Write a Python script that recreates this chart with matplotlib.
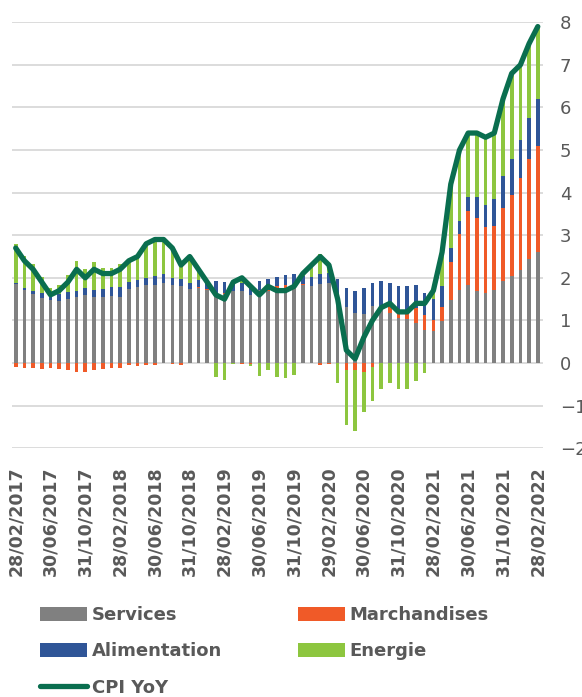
import numpy as np
import matplotlib.pyplot as plt

# monthly, Feb 2017 .. Feb 2022
dates = ['28/02/2017', '30/06/2017', '31/10/2017', '28/02/2018', '30/06/2018',
         '31/10/2018', '28/02/2019', '30/06/2019', '31/10/2019', '29/02/2020',
         '30/06/2020', '31/10/2020', '28/02/2021', '30/06/2021', '31/10/2021',
         '28/02/2022']

services = [1.86, 1.72, 1.63, 1.53, 1.47, 1.46, 1.51, 1.54, 1.60, 1.54,
            1.56, 1.58, 1.55, 1.74, 1.78, 1.83, 1.84, 1.89, 1.82, 1.80,
            1.74, 1.75, 1.71, 1.63, 1.63, 1.68, 1.68, 1.60, 1.72, 1.68,
            1.72, 1.75, 1.82, 1.83, 1.80, 1.86, 1.88, 1.60, 1.31, 1.17,
            1.16, 1.35, 1.29, 1.17, 1.05, 1.03, 0.95, 0.78, 0.74, 0.98,
            1.48, 1.72, 1.82, 1.70, 1.64, 1.72, 1.93, 2.05, 2.19, 2.44,
            2.60]
marchandises = [-0.09, -0.12, -0.12, -0.13, -0.12, -0.13, -0.17, -0.20, -0.20, -0.17,
                -0.13, -0.12, -0.12, -0.05, -0.06, -0.04, -0.04, -0.01, -0.03, -0.05,
                0.00, 0.03, 0.02, 0.00, 0.02, 0.00, -0.03, -0.03, 0.00, 0.03,
                0.08, 0.08, 0.00, 0.02, 0.00, -0.05, -0.02, 0.00, -0.16, -0.17,
                -0.20, -0.09, 0.00, 0.16, 0.12, 0.14, 0.34, 0.35, 0.28, 0.33,
                0.89, 1.31, 1.75, 1.71, 1.55, 1.50, 1.72, 1.90, 2.16, 2.34,
                2.49]
alimentation = [0.02, 0.05, 0.06, 0.11, 0.10, 0.16, 0.15, 0.16, 0.17, 0.18,
                0.18, 0.21, 0.23, 0.17, 0.17, 0.16, 0.20, 0.19, 0.18, 0.18,
                0.15, 0.17, 0.17, 0.29, 0.25, 0.24, 0.21, 0.23, 0.20, 0.26,
                0.23, 0.23, 0.27, 0.20, 0.23, 0.23, 0.23, 0.37, 0.45, 0.53,
                0.60, 0.54, 0.63, 0.55, 0.63, 0.63, 0.53, 0.51, 0.48, 0.49,
                0.33, 0.31, 0.33, 0.49, 0.52, 0.63, 0.74, 0.84, 0.88, 0.98,
                1.11]
energie = [0.91, 0.75, 0.63, 0.39, 0.18, 0.21, 0.41, 0.70, 0.43, 0.65,
           0.49, 0.43, 0.54, 0.54, 0.61, 0.85, 0.90, 0.83, 0.73, 0.37,
           0.61, 0.25, 0.00, -0.32, -0.40, -0.02, 0.14, -0.04, -0.30, -0.16,
           -0.33, -0.36, -0.29, 0.05, 0.27, 0.46, 0.21, -0.47, -1.30, -1.43,
           -0.96, -0.80, -0.62, -0.48, -0.60, -0.60, -0.42, -0.24, 0.20, 0.80,
           1.50, 1.66, 1.50, 1.50, 1.59, 1.55, 1.81, 2.01, 1.77, 1.74,
           1.70]
cpi = [2.7, 2.4, 2.2, 1.9, 1.6, 1.7, 1.9, 2.2, 2.0, 2.2,
       2.1, 2.1, 2.2, 2.4, 2.5, 2.8, 2.9, 2.9, 2.7, 2.3,
       2.5, 2.2, 1.9, 1.6, 1.5, 1.9, 2.0, 1.8, 1.6, 1.8,
       1.7, 1.7, 1.8, 2.1, 2.3, 2.5, 2.3, 1.5, 0.3, 0.1,
       0.6, 1.0, 1.3, 1.4, 1.2, 1.2, 1.4, 1.4, 1.7, 2.6,
       4.2, 5.0, 5.4, 5.4, 5.3, 5.4, 6.2, 6.8, 7.0, 7.5,
       7.9]

series = [('Services', services, '#808080'),
          ('Marchandises', marchandises, '#F05A28'),
          ('Alimentation', alimentation, '#2F5597'),
          ('Energie', energie, '#8DC63F')]

text_col = '#595959'
plt.rcParams['font.family'] = ['DejaVu Sans']

fig = plt.figure(figsize=(5.82, 6.97), dpi=100)
ax = fig.add_axes([0.021, 0.357, 0.912, 0.611])

x = np.arange(len(cpi))
pos_base = np.zeros(len(x))
neg_base = np.zeros(len(x))
handles = {}
for name, vals, col in series:
    v = np.array(vals)
    base = np.where(v >= 0, pos_base, neg_base)
    handles[name] = ax.bar(x, v, 0.42, bottom=base, color=col, label=name, zorder=2)
    pos_base += np.where(v >= 0, v, 0)
    neg_base += np.where(v < 0, v, 0)

line, = ax.plot(x, cpi, color='#0A6E4F', linewidth=3.8, solid_joinstyle='round',
                solid_capstyle='round', label='CPI YoY', zorder=3)

ax.set_ylim(-2, 8)
ax.set_xlim(-0.4, 60.6)
ax.set_yticks(range(-2, 9))
ax.yaxis.tick_right()
ax.tick_params(axis='y', length=0, labelsize=13, labelcolor=text_col, pad=12)
ax.set_xticks(x[::4])
ax.set_xticklabels(dates, rotation=90, fontsize=12.5, fontweight='bold', color=text_col)
ax.tick_params(axis='x', length=0, pad=13)
ax.grid(axis='y', color='#d9d9d9', linewidth=1.3, zorder=0)
ax.set_axisbelow(True)
for s in ax.spines.values():
    s.set_visible(False)

order = ['Services', 'Alimentation', 'CPI YoY', 'Marchandises', 'Energie']
hs = [handles['Services'], handles['Alimentation'], line,
      handles['Marchandises'], handles['Energie']]
leg = fig.legend(hs, order, ncol=2, loc='upper left', bbox_to_anchor=(0.068, 0.13),
                 frameon=False, prop={'size': 13, 'weight': 'bold'},
                 handlelength=2.6, handleheight=0.78, handletextpad=0.28,
                 columnspacing=4.2, labelspacing=1.0, borderpad=0, borderaxespad=0)
for t in leg.get_texts():
    t.set_color(text_col)

fig.savefig('out.png', dpi=100)
